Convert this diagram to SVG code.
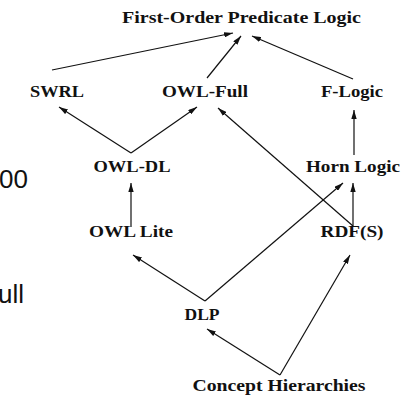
<svg xmlns="http://www.w3.org/2000/svg" width="419" height="397" viewBox="0 0 419 397">
<style>
.lbl{font-family:"Liberation Serif","DejaVu Serif",serif;font-weight:bold;font-size:17px;fill:#111;text-anchor:middle}
.side{font-family:"Liberation Sans","Open Sans",sans-serif;font-size:26px;fill:#111;text-anchor:end}
.edge{stroke:#111;stroke-width:1.2;fill:none;marker-end:url(#ah)}
</style>
<defs>
<marker id="ah" viewBox="0 0 10 6" refX="10" refY="3" markerWidth="9" markerHeight="5.5" markerUnits="userSpaceOnUse" orient="auto">
<path d="M0,0 L10,3 L0,6 z" fill="#111"/>
</marker>
</defs>
<rect width="419" height="397" fill="#fff"/>
<text class="side" x="28" y="188">00</text>
<text class="side" x="24" y="303">ull</text>
<g id="connectors">
<line class="edge" x1="52" y1="70" x2="233" y2="33"/>
<line class="edge" x1="207" y1="78" x2="241" y2="36"/>
<line class="edge" x1="353" y1="79" x2="252" y2="36"/>
<line class="edge" x1="131" y1="153" x2="59" y2="107"/>
<line class="edge" x1="131" y1="153" x2="197" y2="107"/>
<line class="edge" x1="353" y1="226" x2="218" y2="108"/>
<line class="edge" x1="354" y1="155" x2="354" y2="110"/>
<line class="edge" x1="131" y1="227" x2="131" y2="183"/>
<line class="edge" x1="353" y1="226" x2="353" y2="183"/>
<line class="edge" x1="205" y1="301" x2="133" y2="255"/>
<line class="edge" x1="205" y1="301" x2="343" y2="183"/>
<line class="edge" x1="280" y1="375" x2="207" y2="329"/>
<line class="edge" x1="280" y1="375" x2="350" y2="255"/>
</g>
<g id="fopl"><text class="lbl" x="241.5" y="23" textLength="239" lengthAdjust="spacingAndGlyphs">First-Order Predicate Logic</text></g>
<g id="swrl"><text class="lbl" x="57" y="97" textLength="54" lengthAdjust="spacingAndGlyphs">SWRL</text></g>
<g id="owlfull"><text class="lbl" x="205" y="97" textLength="86" lengthAdjust="spacingAndGlyphs">OWL-Full</text></g>
<g id="flogic"><text class="lbl" x="352" y="97" textLength="62" lengthAdjust="spacingAndGlyphs">F-Logic</text></g>
<g id="owldl"><text class="lbl" x="132" y="172" textLength="77" lengthAdjust="spacingAndGlyphs">OWL-DL</text></g>
<g id="horn"><text class="lbl" x="353" y="172" textLength="94" lengthAdjust="spacingAndGlyphs">Horn Logic</text></g>
<g id="owllite"><text class="lbl" x="131" y="237" textLength="84" lengthAdjust="spacingAndGlyphs">OWL Lite</text></g>
<g id="rdfs"><text class="lbl" x="352" y="237" textLength="63" lengthAdjust="spacingAndGlyphs">RDF(S)</text></g>
<g id="dlp"><text class="lbl" x="202" y="320" textLength="35" lengthAdjust="spacingAndGlyphs">DLP</text></g>
<g id="concept"><text class="lbl" x="279" y="391" textLength="173" lengthAdjust="spacingAndGlyphs">Concept Hierarchies</text></g>
</svg>
